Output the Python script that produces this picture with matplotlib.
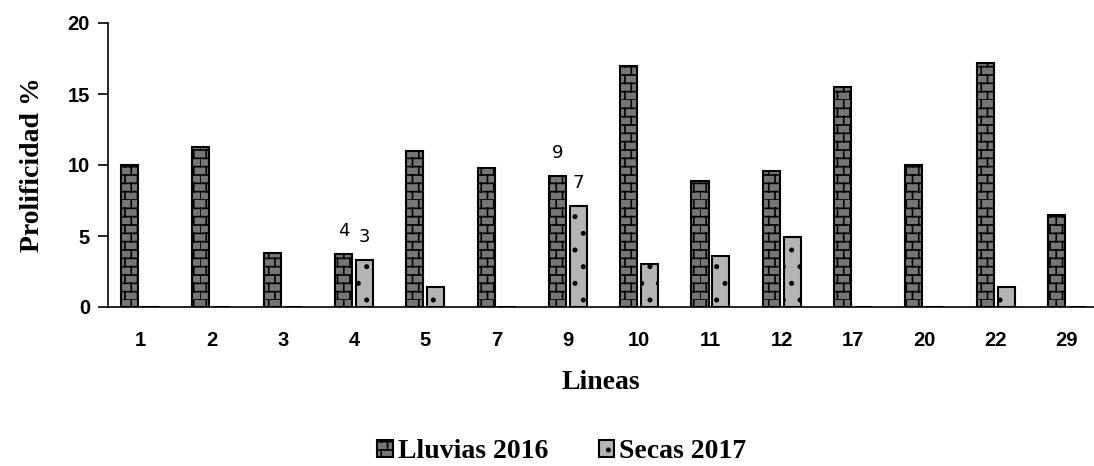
import warnings

import matplotlib.pyplot as plt
import numpy as np
from matplotlib import hatch as mhatch
from matplotlib.path import Path

warnings.filterwarnings('ignore')
plt.rcParams['hatch.linewidth'] = 1.2
plt.rcParams['hatch.color'] = 'black'


class Bricks(mhatch.HatchPatternBase):
    """Brick-wall hatch, selected with the letter 'b'."""

    def __init__(self, hatch, density):
        n = hatch.count('b')
        self.rows = 12 * n
        self.cols = 8 * n
        self.num_vertices = (self.rows + self.rows * self.cols) * 2

    def set_vertices_and_codes(self, vertices, codes):
        segs = []
        for i in range(self.rows):
            y0, y1 = i / self.rows, (i + 1) / self.rows
            segs.append(((0, y0), (1, y0)))
            for j in range(self.cols):
                xj = (j + 0.5 * (i % 2)) / self.cols
                segs.append(((xj, y0), (xj, y1)))
        vertices[:] = np.array(segs).reshape(-1, 2)
        codes[0::2] = Path.MOVETO
        codes[1::2] = Path.LINETO


mhatch._hatch_types.append(Bricks)

# Prolificidad por linea en dos temporadas
lineas = ['1', '2', '3', '4', '5', '7', '9', '10', '11', '12', '17', '20', '22', '29']
lluvias_2016 = [10.0, 11.3, 3.8, 3.7, 11.0, 9.8, 9.2, 17.0, 8.9, 9.6, 15.5, 10.0, 17.2, 6.5]
secas_2017 = [0, 0, 0, 3.3, 1.4, 0, 7.1, 3.0, 3.6, 4.9, 0, 0, 1.4, 0]

# barras con etiqueta de valor (indice de linea)
etiquetadas = [3, 6]

serif = 'Liberation Serif'
sans = 'Liberation Sans'

fig = plt.figure(figsize=(10.94, 4.66), dpi=100)
ax = fig.add_axes([108 / 1094, 159 / 466, 986 / 1094, 284 / 466])

x = np.arange(len(lineas))
w = 0.24
off = 0.147

b1 = ax.bar(x - off, lluvias_2016, w, color='#767676', edgecolor='black',
            linewidth=1.5, hatch='b', label='Lluvias 2016')
b2 = ax.bar(x + off, secas_2017, w, color='#b4b4b4', edgecolor='black',
            linewidth=1.5, hatch='.', label='Secas 2017')

for i in etiquetadas:
    for bars, vals in ((b1, lluvias_2016), (b2, secas_2017)):
        bar = bars[i]
        ax.annotate(f'{vals[i]:.0f}', (bar.get_x() + bar.get_width() / 2, vals[i]),
                    xytext=(0, 17), textcoords='offset points', ha='center', va='center',
                    fontsize=13, family='DejaVu Sans')

ax.set_xlim(-0.45, 13.38)
ax.set_ylim(0, 20)
ax.set_yticks([0, 5, 10, 15, 20])
ax.set_xticks(x)
ax.set_xticklabels(lineas)
for lab in ax.get_xticklabels() + ax.get_yticklabels():
    lab.set_family(sans)
    lab.set_fontweight('bold')
    lab.set_fontsize(14.5)
ax.tick_params(axis='x', length=0, pad=17)
ax.tick_params(axis='y', length=7, width=1.2, direction='out', pad=6)

ax.spines['top'].set_visible(False)
ax.spines['right'].set_visible(False)
ax.spines['left'].set_linewidth(1.2)
ax.spines['bottom'].set_linewidth(1.2)

ax.set_xlabel('Lineas', family=serif, fontweight='bold', fontsize=20, labelpad=15)
ax.set_ylabel('Prolificidad %', family=serif, fontweight='bold', fontsize=20, labelpad=16)

fig.legend(handles=[b1, b2], loc='center', bbox_to_anchor=(562 / 1094, 1 - 452 / 466),
           ncol=2, frameon=False, handlelength=0.55, handleheight=0.55,
           handletextpad=0.2, columnspacing=1.8,
           prop={'family': serif, 'weight': 'bold', 'size': 20})

fig.savefig('out.png', dpi=100)
